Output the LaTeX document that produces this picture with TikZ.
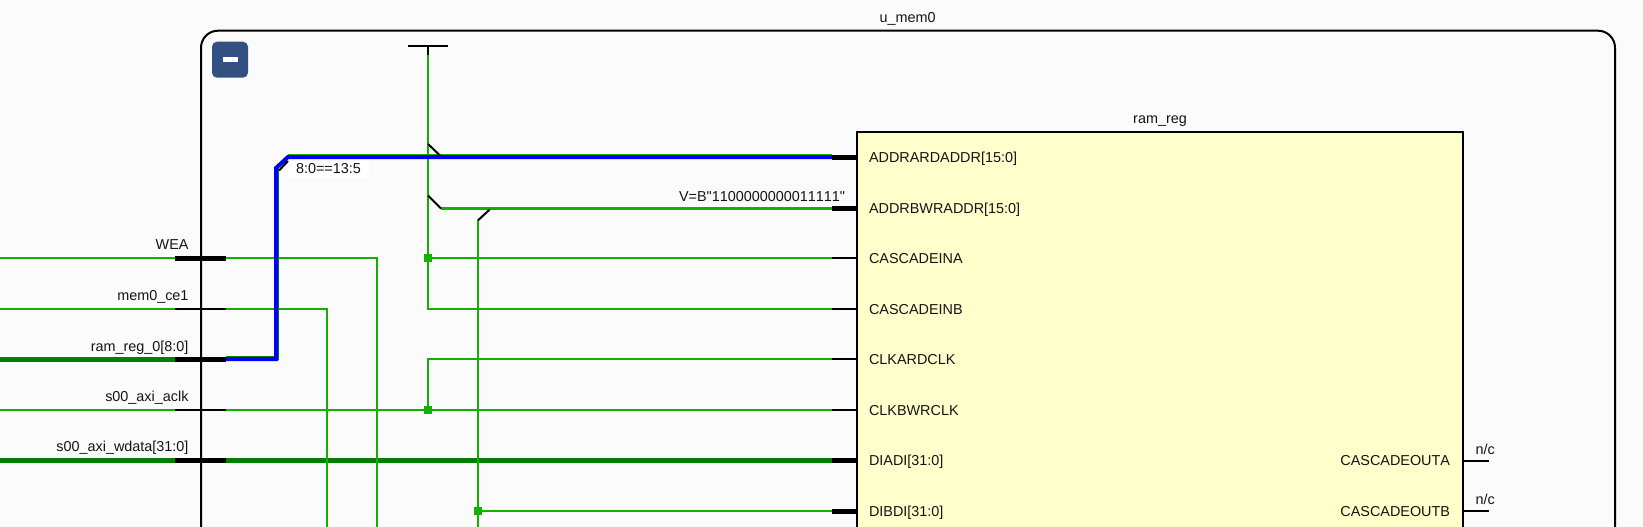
\documentclass[tikz,border=0pt]{standalone}
\usepackage{fontspec}
\newfontfamily\labfont[Kerning=Off]{Liberation Sans}
\definecolor{bgc}{RGB}{251,251,251}
\definecolor{wirec}{RGB}{20,176,0}
\definecolor{busc}{RGB}{0,128,0}
\definecolor{selc}{RGB}{0,0,245}
\definecolor{blockc}{RGB}{255,255,204}
\definecolor{iconc}{RGB}{51,80,130}
\tikzset{
  wire/.style={draw=wirec,line width=2pt},
  addrbus/.style={draw=wirec,line width=3pt},
  bus/.style={draw=busc,line width=5pt},
  selbus/.style={draw=selc,line width=4pt},
  thinstub/.style={draw=black,line width=2pt},
  thickstub/.style={draw=black,line width=5pt},
  joint/.style={fill=wirec,draw=none,minimum size=7.5pt,inner sep=0pt,outer sep=0pt,shape=rectangle},
  txt/.style={font=\labfont\fontsize{14.4}{16}\selectfont,inner sep=0pt,outer sep=0pt,text=black!92},
  pinl/.style={txt,anchor=base west},
  pinr/.style={txt,anchor=base east},
  portl/.style={txt,anchor=base east},
}
\begin{document}
\begin{tikzpicture}[x=1pt,y=-1pt,line cap=butt,line join=miter]
\useasboundingbox (0,0) rectangle (1643,527);
\fill[bgc] (0,0) rectangle (1643,527);
% pin rows
\foreach \n/\y in {a/157,b/208.5,c/258,d/309,e/359,f/410,g/460.5,h/511}{
  \coordinate (L\n) at (0,\y);
  \coordinate (PL\n) at (175,\y);
  \coordinate (PR\n) at (226,\y);
  \coordinate (S\n) at (832,\y);
  \coordinate (B\n) at (857,\y);
}
% frame
\draw[black,line width=2pt,rounded corners=17pt] (201,540) -- (201,30.7) -- (1615,30.7) -- (1615,540);
\node[txt,anchor=base] (memtitle) at (907.6,23) {u\_mem0};
% collapse icon
\node[fill=iconc,rounded corners=5pt,minimum width=36pt,minimum height=36pt,inner sep=0pt,outer sep=0pt] (icon) at (230,59.7) {};
\node[fill=white,minimum width=15pt,minimum height=5pt,inner sep=0pt,outer sep=0pt] (iconbar) at (icon.center) {};
% block
\node[draw=black,fill=blockc,line width=2pt,anchor=north west,minimum width=606pt,minimum height=420pt,inner sep=0pt,outer sep=0pt] (ram) at (857,132) {};
\node[txt,anchor=base] (ramtitle) at (1160,123) {ram\_reg};
% named junctions
\coordinate (tie) at (428,45.7);
\coordinate (tiel) at (408,45.7);
\coordinate (tier) at (448,45.7);
\coordinate (tiestub) at (428,55.3);
\coordinate (diagA0) at (428,144);
\coordinate (diagA1) at (440,155.5);
\coordinate (diagB0) at (428,195.5);
\coordinate (diagB1) at (441,208.5);
\coordinate (diagC0) at (489.5,209.7);
\coordinate (diagC1) at (478,220.3);
\coordinate (low1) at (327,540);
\coordinate (low2) at (377,540);
\coordinate (low3) at (478,540);
\coordinate (selc1) at (276,168);
\coordinate (selc2) at (288,157);
% buses (bottom layer)
\draw[bus] (Lg) -- (PLg);
\draw[bus] (PRg) -- (Sg);
\draw[bus] (Le) -- (PLe);
% thin wires
\draw[wire] (Lc) -- (PLc);
\draw[wire] (PRc) -| (low2);
\draw[wire] (Ld) -- (PLd);
\draw[wire] (PRd) -| (low1);
\draw[wire] (Lf) -- (PLf);
\draw[wire] (PRf) -- (Sf);
\draw[wire] (tiestub) |- (Sd);
\draw[wire] (428,258) -- (Sc);
\draw[wire] (428,410) |- (Se);
\draw[wire] (diagC1) -- (low3);
\draw[wire] (478,511) -- (Sh);
\draw[addrbus] (diagB1) -- (Sb);
% selected bus with its green wire beneath
\draw[draw=busc,line width=4pt] ([yshift=1pt]PRe) -| ([xshift=1pt]selc1);
\draw[draw=wirec,line width=4pt] ([yshift=1pt]selc2) -- ([yshift=1pt]Sa);
\draw[selbus] (PRe) -| (selc1) -- (selc2) -- (Sa);
\node[fill=white,anchor=north west,minimum width=81pt,minimum height=18pt,inner sep=0pt,outer sep=0pt] (slicebg) at (288,159.5) {};
\node[txt] (slice) at (slicebg.center) {8:0==13:5};
% black stubs
\draw[thinstub] (tiel) -- (tier);
\draw[thinstub] (tie) -- (tiestub);
\draw[thinstub] (diagA0) -- (diagA1);
\draw[thinstub] (diagB0) -- (diagB1);
\draw[thinstub] (diagC0) -- (diagC1);
\draw[thinstub] (279,170.5) -- (288,161);
\foreach \n in {c,e,g}{\draw[thickstub] (PL\n) -- (PR\n);}
\foreach \n in {d,f}{\draw[thinstub] (PL\n) -- (PR\n);}
\foreach \n in {a,b,g,h}{\draw[thickstub] (S\n) -- (B\n);}
\foreach \n in {c,d,e,f}{\draw[thinstub] (S\n) -- (B\n);}
% joints
\node[joint] (j1) at (428,258) {};
\node[joint] (j2) at (428,410) {};
\node[joint] (j3) at (478,511) {};
% port labels
\node[portl] (wea) at (188.5,249) {WEA};
\node[portl] (ce) at (188.5,300) {mem0\_ce1};
\node[portl] (rr) at (188.5,351) {ram\_reg\_0[8:0]};
\node[portl] (clk) at (188.5,401) {s00\_axi\_aclk};
\node[portl] (wd) at (188.5,451.3) {s00\_axi\_wdata[31:0]};
% pin labels
\node[pinl] (p1) at (869,162) {ADDRARDADDR[15:0]};
\node[pinl] (p2) at (869,213.3) {ADDRBWRADDR[15:0]};
\node[pinl] (p3) at (869,263) {CASCADEINA};
\node[pinl] (p4) at (869,314) {CASCADEINB};
\node[pinl] (p5) at (869,364.5) {CLKARDCLK};
\node[pinl] (p6) at (869,415) {CLKBWRCLK};
\node[pinl] (p7) at (869,465.3) {DIADI[31:0]};
\node[pinl] (p8) at (869,516) {DIBDI[31:0]};
\node[pinr] (o1) at (1450,465.3) {CASCADEOUTA};
\node[pinr] (o2) at (1450,516) {CASCADEOUTB};
\node[txt,anchor=base east] (vb) at (845,201) {V=B"1100000000011111"};
% output stubs
\coordinate (ob1) at (1463,460.5);
\coordinate (oe1) at (1489,460.5);
\coordinate (ob2) at (1463,511);
\coordinate (oe2) at (1489,511);
\draw[thinstub] (ob1) -- (oe1);
\draw[thinstub] (ob2) -- (oe2);
\node[txt,anchor=base west] (nc1) at (1475.5,454.3) {n/c};
\node[txt,anchor=base west] (nc2) at (1475.5,504.3) {n/c};
\end{tikzpicture}
\end{document}
